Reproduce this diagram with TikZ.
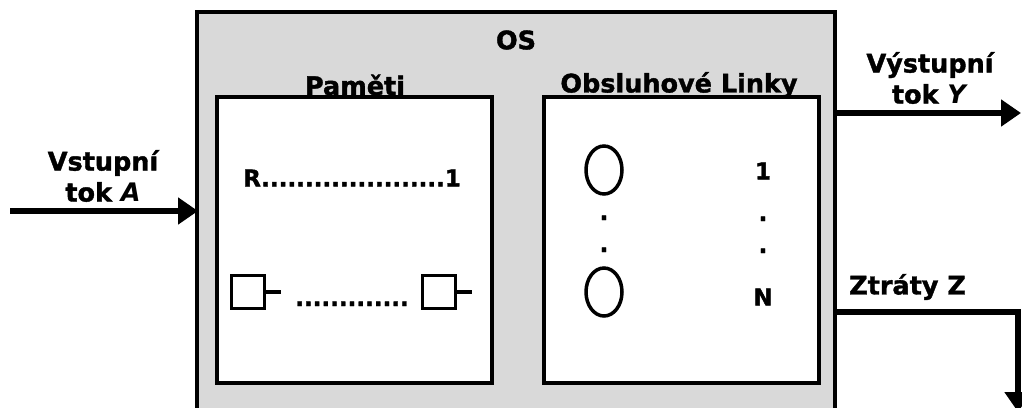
\documentclass[tikz,border=0pt]{standalone}
\usepackage{fontspec}
\setmainfont{DejaVu Sans}[BoldFeatures={FakeBold=1.5}]
\usetikzlibrary{arrows.meta,shapes.geometric}
\definecolor{osgray}{RGB}{217,217,217}
\begin{document}
\begin{tikzpicture}[x=1pt,y=-1pt,
  lbl/.style={font=\fontsize{25.5}{31}\selectfont\bfseries, inner sep=0pt, align=center},
  sml/.style={font=\fontsize{23}{27}\selectfont\bfseries, inner sep=0pt},
  box/.style={draw=black, line width=3.5pt, fill=white},
  flow/.style={line width=5.5pt, -{Triangle[length=20pt,width=26pt]}},
  que/.style={draw=black, line width=3.5pt, fill=white, minimum width=33pt, minimum height=33pt, inner sep=0pt},
  srv/.style={draw=black, line width=3.5pt, ellipse, minimum width=36pt, minimum height=48pt, inner sep=0pt}]
\useasboundingbox (0,0) rectangle (1022,407);
% OS box
\coordinate (osTL) at (197,12);
\coordinate (osBR) at (835,430);
\draw[fill=osgray, line width=3.5pt] (osTL) rectangle (osBR);
\node[lbl] (os) at (516,40) {OS};
% memory and service boxes
\node[box, minimum width=275pt, minimum height=286pt, anchor=north west, inner sep=0pt] (mem) at (215,95) {};
\node[box, minimum width=275pt, minimum height=286pt, anchor=north west, inner sep=0pt] (srvbox) at (542,95) {};
\node[lbl] (memlbl) at (355,85) {Paměti};
\node[lbl] (srvlbl) at (679,85) {Obsluhové Linky};
% memory contents
\node[sml, anchor=west] (rr) at (243,178) {R.....................1};
\node[que] (q1) at (248,292) {};
\node[que] (q2) at (439,292) {};
\coordinate (t1) at (281,292);
\coordinate (t2) at (472,292);
\draw[line width=3.5pt] (q1.east) -- (t1);
\draw[line width=3.5pt] (q2.east) -- (t2);
\node[sml, anchor=base] (qdots) at (352,306) {.............};
% service contents
\node[srv] (s1) at (604,170) {};
\node[srv] (s2) at (604,292) {};
\node[sml, anchor=base] (d1) at (604,220) {.};
\node[sml, anchor=base] (d2) at (604,252) {.};
\node[sml] (n1) at (763,171) {1};
\node[sml, anchor=base] (d3) at (763,221) {.};
\node[sml, anchor=base] (d4) at (763,253) {.};
\node[sml] (nN) at (763,297) {N};
% flows
\coordinate (inS) at (10,211);
\coordinate (inE) at (198,211);
\draw[flow] (inS) -- (inE);
\node[lbl] (inlbl) at (103,176) {Vstupní\\tok \textit{A}};
\coordinate (outS) at (835,113);
\coordinate (outE) at (1021,113);
\draw[flow] (outS) -- (outE);
\node[lbl] (outlbl) at (930,78) {Výstupní\\tok \textit{Y}};
\coordinate (lossS) at (835,312);
\coordinate (lossC) at (1018,312);
\coordinate (lossE) at (1018,412);
\draw[flow] (lossS) -- (lossC) -- (lossE);
\node[lbl, anchor=west] (losslbl) at (849,287) {Ztráty Z};
\end{tikzpicture}
\end{document}
